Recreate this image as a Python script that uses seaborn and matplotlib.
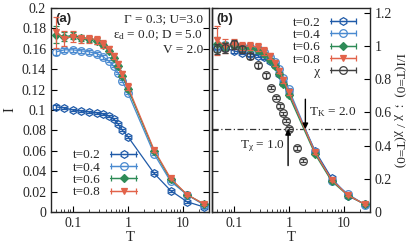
import numpy as np
import pandas as pd
import seaborn as sns
import matplotlib.pyplot as plt
from matplotlib.lines import Line2D
from matplotlib.collections import LineCollection
from matplotlib.container import ErrorbarContainer
from matplotlib.legend_handler import HandlerErrorbar
from matplotlib.ticker import FuncFormatter, MultipleLocator, NullFormatter

# temperatures of the QMC runs
T = [0.05, 0.07, 0.1, 0.14, 0.2, 0.28, 0.36, 0.45, 0.55, 0.67, 0.8, 1.0, 3.0, 6.0, 12.0, 24.0]

t_labels = ['t=0.2', 't=0.4', 't=0.6', 't=0.8']

# current I(T) for each t
I_t02 = [0.103, 0.102, 0.100, 0.099, 0.098, 0.097, 0.096, 0.094, 0.091, 0.086, 0.080, 0.074, 0.038, 0.021, 0.010, 0.005]
I_t04 = [0.157, 0.159, 0.159, 0.158, 0.157, 0.155, 0.152, 0.148, 0.143, 0.136, 0.128, 0.117, 0.057, 0.030, 0.017, 0.007]
I_t06 = [0.174, 0.172, 0.173, 0.171, 0.170, 0.168, 0.164, 0.158, 0.151, 0.143, 0.133, 0.121, 0.060, 0.032, 0.017, 0.008]
I_t08 = [0.176, 0.170, 0.172, 0.170, 0.170, 0.169, 0.165, 0.160, 0.153, 0.145, 0.135, 0.123, 0.061, 0.033, 0.017, 0.008]

err_t02 = [0.002, 0.001, 0.001, 0.001, 0.001, 0.001, 0.001, 0.001, 0.001, 0.001, 0.001, 0.001, 0.001, 0.001, 0.001, 0.001]
err_t04 = [0.003, 0.002, 0.002, 0.002, 0.002, 0.002, 0.002, 0.001, 0.001, 0.001, 0.001, 0.001, 0.001, 0.001, 0.001, 0.001]
err_t06 = [0.008, 0.004, 0.003, 0.003, 0.003, 0.003, 0.002, 0.002, 0.002, 0.002, 0.002, 0.002, 0.001, 0.001, 0.001, 0.001]
err_t08 = [0.015, 0.007, 0.005, 0.004, 0.004, 0.004, 0.004, 0.003, 0.003, 0.003, 0.003, 0.003, 0.002, 0.001, 0.001, 0.001]

# zero temperature current used for normalisation in (b)
I0 = [0.103, 0.158, 0.172, 0.170]

# susceptibility ratio chi(T)/chi(0)
T_chi = [0.05, 0.07, 0.1, 0.14, 0.2, 0.28, 0.38, 0.47, 0.58, 0.69, 0.78, 0.88, 1.0, 1.4, 1.8]
chi = [0.98, 0.99, 1.01, 0.98, 0.94, 0.885, 0.825, 0.75, 0.69, 0.64, 0.595, 0.55, 0.50, 0.385, 0.31]
chi_err = [0.03, 0.03, 0.03, 0.02, 0.02, 0.015, 0.015, 0.01, 0.01, 0.01, 0.01, 0.01, 0.01, 0.01, 0.01]

I_all = [I_t02, I_t04, I_t06, I_t08]
err_all = [err_t02, err_t04, err_t06, err_t08]
colors = ['#1f5aa8', '#4a8ad0', '#2e8b57', '#e2634a']
markers = ['h', 'o', 'D', 'v']
filled = [False, False, True, True]
msizes = [5.5, 5.5, 4, 5]
chi_color = '#404040'

sns.set_theme(style='ticks')
plt.rcParams['font.family'] = ['Liberation Serif', 'DejaVu Serif']
plt.rcParams['mathtext.fontset'] = 'custom'
plt.rcParams['mathtext.rm'] = 'Liberation Serif'
plt.rcParams['mathtext.it'] = 'Liberation Serif:italic'
plt.rcParams['axes.linewidth'] = 1.0
plt.rcParams['xtick.direction'] = 'in'
plt.rcParams['ytick.direction'] = 'in'

fig = plt.figure(figsize=(4.15, 2.44), dpi=100)
ax_a = fig.add_axes([51 / 415, 32 / 244, 158 / 415, 204 / 244])
ax_b = fig.add_axes([212 / 415, 32 / 244, 158 / 415, 204 / 244])

fmt_g = FuncFormatter(lambda v, p: '%g' % v)


def err_handle(c, m, ms, fill):
    # gnuplot-like key entry: marker on a horizontal bar with caps
    line = Line2D([], [], color=c, lw=0.9, marker=m, markersize=ms,
                  markerfacecolor=c if fill else 'none', markeredgecolor=c, markeredgewidth=0.9)
    cap = Line2D([], [], color=c, marker='|', markersize=5, markeredgewidth=0.9, lw=0)
    bar = LineCollection([], colors=c, linewidths=0.9)
    return ErrorbarContainer((line, [cap], [bar]), has_xerr=True, has_yerr=False)


# ---------------- panel (a) ----------------
for k in range(4):
    df = pd.DataFrame({'T': T, 'I': I_all[k]})
    mfc = colors[k] if filled[k] else 'none'
    sns.lineplot(data=df, x='T', y='I', ax=ax_a, color=colors[k], lw=0.9,
                 marker=markers[k], markersize=msizes[k], markerfacecolor=mfc,
                 markeredgecolor=colors[k], markeredgewidth=0.9, zorder=3 + k)
    ax_a.errorbar(T, I_all[k], yerr=err_all[k], fmt='none', ecolor=colors[k],
                  elinewidth=0.9, capsize=2.5, capthick=0.9, zorder=3 + k)

ax_a.set_xscale('log')
ax_a.set_xlim(0.04, 30)
ax_a.set_ylim(0, 0.2)
ax_a.yaxis.set_major_locator(MultipleLocator(0.02))
ax_a.yaxis.set_major_formatter(fmt_g)
ax_a.xaxis.set_major_formatter(fmt_g)
ax_a.xaxis.set_minor_formatter(NullFormatter())
ax_a.tick_params(axis='both', which='major', labelsize=10, length=4, width=0.8, color='black')
ax_a.tick_params(axis='x', which='minor', length=2.5, width=0.6)
ax_a.tick_params(axis='y', right=True)
ax_a.set_xlabel('T', fontsize=10.5, labelpad=1)
ax_a.set_ylabel('I', fontsize=10.5, labelpad=4)

ax_a.text(0.03, 0.975, '(a)', transform=ax_a.transAxes, ha='left', va='top',
          fontsize=9.5, fontweight='bold', family=['Liberation Sans', 'DejaVu Sans'])
ax_a.text(0.965, 0.975, '\u0393 = 0.3; U=3.0', transform=ax_a.transAxes, ha='right', va='top', fontsize=9.5)
ax_a.text(0.965, 0.90, '$\\mathrm{\\epsilon_d}$ = 0.0; D = 5.0', transform=ax_a.transAxes, ha='right', va='top', fontsize=9.5)
ax_a.text(0.965, 0.825, 'V = 2.0', transform=ax_a.transAxes, ha='right', va='top', fontsize=9.5)

hmap = {ErrorbarContainer: HandlerErrorbar(xerr_size=0.95)}
handles_a = [err_handle(colors[k], markers[k], msizes[k], filled[k]) for k in range(4)]
ax_a.legend(handles_a, t_labels, loc='upper left', bbox_to_anchor=(0.1, 0.34),
            frameon=False, markerfirst=False, fontsize=9.5, handlelength=2.0,
            handletextpad=0.7, labelspacing=0.0, borderpad=0, handler_map=hmap)

# ---------------- panel (b) ----------------
for k in range(4):
    ratio = [v / I0[k] for v in I_all[k]]
    rerr = [e / I0[k] for e in err_all[k]]
    df = pd.DataFrame({'T': T, 'r': ratio})
    mfc = colors[k] if filled[k] else 'none'
    sns.lineplot(data=df, x='T', y='r', ax=ax_b, color=colors[k], lw=0.9,
                 marker=markers[k], markersize=msizes[k], markerfacecolor=mfc,
                 markeredgecolor=colors[k], markeredgewidth=0.9, zorder=3 + k)
    ax_b.errorbar(T, ratio, yerr=rerr, fmt='none', ecolor=colors[k],
                  elinewidth=0.9, capsize=2.5, capthick=0.9, zorder=3 + k)

ax_b.errorbar(T_chi, chi, yerr=chi_err, fmt='o', color=chi_color, mfc='none',
              mec=chi_color, ms=5.5, mew=0.9, elinewidth=0.9, capsize=2.5,
              capthick=0.9, zorder=8)

ax_b.axhline(0.5, color='#333333', lw=0.9, ls=(0, (5, 2, 1, 2)), zorder=2)
ax_b.annotate('', xy=(2.0, 0.5), xytext=(2.0, 0.68),
              arrowprops=dict(arrowstyle='-|>', color='black', lw=1.0, mutation_scale=8,
                              shrinkA=0, shrinkB=0), zorder=10)
ax_b.annotate('', xy=(0.97, 0.5), xytext=(0.97, 0.28),
              arrowprops=dict(arrowstyle='-|>', color='black', lw=1.0, mutation_scale=8,
                              shrinkA=0, shrinkB=0), zorder=10)
ax_b.text(2.35, 0.60, 'T$_\\mathrm{K}$ = 2.0', ha='left', va='center', fontsize=9.5)
ax_b.text(0.83, 0.40, 'T$_\\mathrm{\\chi}$ = 1.0', ha='right', va='center', fontsize=9.5)

ax_b.set_xscale('log')
ax_b.set_xlim(0.04, 30)
ax_b.set_ylim(0, 1.23)
ax_b.yaxis.tick_right()
ax_b.yaxis.set_label_position('right')
ax_b.yaxis.set_major_locator(MultipleLocator(0.2))
ax_b.yaxis.set_major_formatter(fmt_g)
ax_b.xaxis.set_major_formatter(fmt_g)
ax_b.xaxis.set_minor_formatter(NullFormatter())
ax_b.tick_params(axis='both', which='major', labelsize=10, length=4, width=0.8, color='black')
ax_b.tick_params(axis='x', which='minor', length=2.5, width=0.6)
ax_b.set_xlabel('T', fontsize=10.5, labelpad=1)
ax_b.set_ylabel('I/I(T=0)  ;  \u03c7 / \u03c7(T=0)', fontsize=9.5, rotation=270, labelpad=9)

sec = ax_b.secondary_yaxis('left', functions=(lambda r: r * 0.2 / 1.23, lambda v: v * 1.23 / 0.2))
sec.yaxis.set_major_locator(MultipleLocator(0.02))
sec.yaxis.set_major_formatter(NullFormatter())
sec.tick_params(axis='y', direction='in', length=4, width=0.8)

ax_b.text(0.03, 0.975, '(b)', transform=ax_b.transAxes, ha='left', va='top',
          fontsize=9.5, fontweight='bold', family=['Liberation Sans', 'DejaVu Sans'])

handles_b = handles_a + [err_handle(chi_color, 'o', 5.5, False)]
labels_b = t_labels + ['      \u03c7']
ax_b.legend(handles_b, labels_b, loc='upper left', bbox_to_anchor=(0.47, 0.99),
            frameon=False, markerfirst=False, fontsize=9.5, handlelength=2.0,
            handletextpad=0.7, labelspacing=0.0, borderpad=0, handler_map=hmap)

fig.savefig('out.png', dpi=100)
